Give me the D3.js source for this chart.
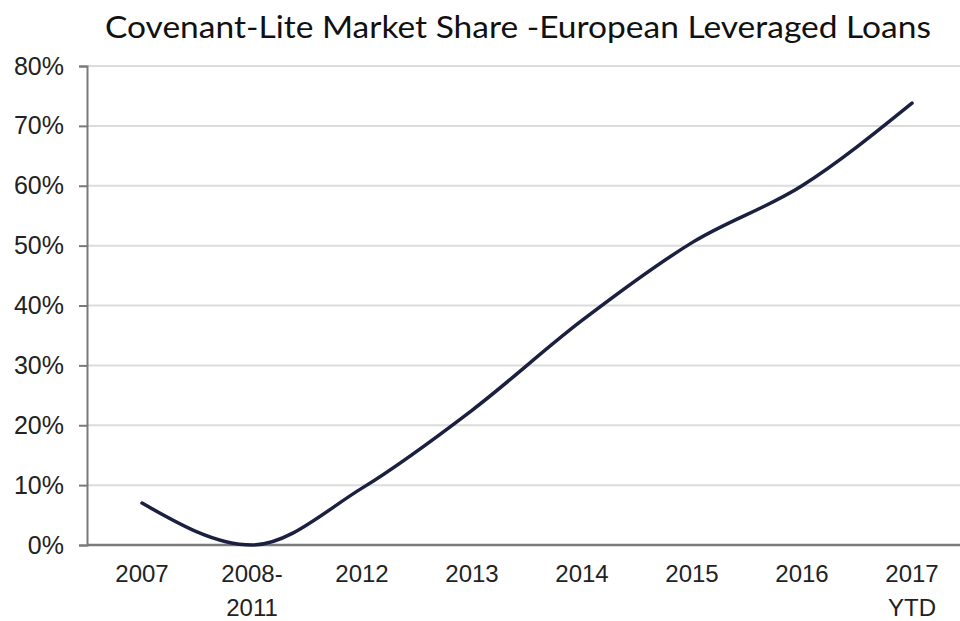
<!DOCTYPE html>
<html>
<head>
<meta charset="utf-8">
<script src="https://cdn.jsdelivr.net/npm/d3@7"></script>
<style>
  body { margin: 0; background: #fff; }
  .axis text { font-family: "Liberation Sans", Arial, sans-serif; fill: #222; }
</style>
</head>
<body>
<div id="chart"></div>
<script>
var categories = ["2007", "2008-\n2011", "2012", "2013", "2014", "2015", "2016", "2017\nYTD"];
var shareValues = [0.07, 0.0, 0.095, 0.225, 0.375, 0.505, 0.60, 0.738];
var yTicks = [0, 0.1, 0.2, 0.3, 0.4, 0.5, 0.6, 0.7, 0.8];
var chartTitle = "Covenant-Lite Market Share -European Leveraged Loans";

var width = 960, height = 621;
var margin = { top: 66, right: -7, bottom: 76, left: 87 };

var svg = d3.select("#chart").append("svg")
    .attr("width", width)
    .attr("height", height);

var x = d3.scaleBand()
    .domain(categories)
    .range([margin.left, width - margin.right]);

var y = d3.scaleLinear()
    .domain([0, 0.8])
    .range([height - margin.bottom, margin.top]);

// title
svg.append("text")
    .attr("x", 518)
    .attr("y", 38)
    .attr("text-anchor", "middle")
    .style("font-family", "Lato, 'Open Sans', sans-serif")
    .style("font-size", "31px")
    .style("fill", "#111")
    .attr("textLength", 826)
    .attr("lengthAdjust", "spacingAndGlyphs")
    .text(chartTitle);

// gridlines
svg.append("g")
    .selectAll("line")
    .data(yTicks.slice(1))
    .enter().append("line")
    .attr("x1", margin.left)
    .attr("x2", width)
    .attr("y1", function(d) { return y(d); })
    .attr("y2", function(d) { return y(d); })
    .style("stroke", "#dcdcdc")
    .style("stroke-width", 2);

// y axis
var yAxis = d3.axisLeft(y)
    .tickValues(yTicks)
    .tickFormat(d3.format(".0%"))
    .tickSize(8)
    .tickPadding(15);

var yg = svg.append("g")
    .attr("class", "axis")
    .attr("transform", "translate(" + margin.left + ",0)")
    .call(yAxis);
yg.select(".domain").attr("stroke", "#7a7a7a").attr("stroke-width", 2);
yg.selectAll(".tick line").attr("stroke", "#7a7a7a").attr("stroke-width", 2);
yg.selectAll("text").style("font-size", "25px");

// x axis
var xAxis = d3.axisBottom(x)
    .tickSize(0)
    .tickPadding(20);

var xg = svg.append("g")
    .attr("class", "axis")
    .attr("transform", "translate(0," + y(0) + ")")
    .call(xAxis);
xg.select(".domain").remove();
xg.append("line")
    .attr("x1", margin.left)
    .attr("x2", width)
    .attr("stroke", "#7a7a7a")
    .attr("stroke-width", 2.5);
xg.selectAll(".tick text")
    .style("font-size", "24px")
    .each(function(d) {
        var t = d3.select(this);
        var lines = d.split("\n");
        t.text(null);
        lines.forEach(function(l, i) {
            t.append("tspan")
                .attr("x", 0)
                .attr("dy", i === 0 ? "0.71em" : "1.42em")
                .text(l);
        });
    });

// line
var line = d3.line()
    .x(function(d, i) { return x(categories[i]) + x.bandwidth() / 2; })
    .y(function(d) { return y(d); })
    .curve(d3.curveMonotoneX);

svg.append("path")
    .datum(shareValues)
    .attr("d", line)
    .style("fill", "none")
    .style("stroke", "#1c2040")
    .style("stroke-width", 3.5)
    .style("stroke-linecap", "round");
</script>
</body>
</html>
